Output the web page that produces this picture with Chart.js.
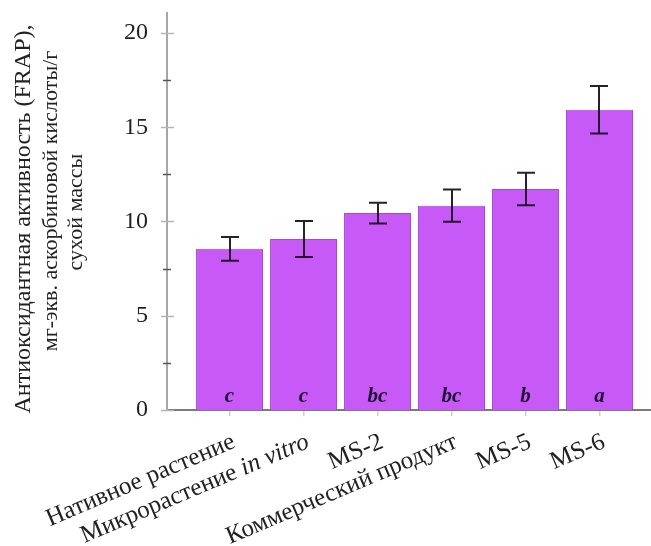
<!DOCTYPE html>
<html>
<head>
<meta charset="utf-8">
<script src="https://cdn.jsdelivr.net/npm/chart.js@4"></script>
<style>
  html, body { margin: 0; padding: 0; background: #fff; }
  canvas { display: block; }
</style>
</head>
<body>
<canvas id="chart" width="651" height="546"></canvas>
<script>
// Antioxidant activity (FRAP) by sample
const categories = ['Нативное растение', 'Микрорастение in vitro', 'MS-2', 'Коммерческий продукт', 'MS-5', 'MS-6'];
const italicTerms = ['in vitro'];
const means = [8.55, 9.07, 10.45, 10.84, 11.72, 15.93];
const errors = [0.63, 0.95, 0.55, 0.86, 0.86, 1.26];
const letters = ['c', 'c', 'bc', 'bc', 'b', 'a'];
const yMajorTicks = [0, 5, 10, 15, 20];
const yMinorTicks = [2.5, 7.5, 12.5, 17.5];
const titleLines = ['Антиоксидантная активность (FRAP),', 'мг-экв. аскорбиновой кислоты/г', 'сухой массы'];

const SERIF = '"Liberation Serif", "Times New Roman", serif';

const overlay = {
  id: 'overlay',
  afterDatasetsDraw(chart) {
    const ctx = chart.ctx;
    const xs = chart.scales.x, ys = chart.scales.y;
    ctx.save();
    // error bars
    ctx.strokeStyle = 'rgba(18, 8, 24, 0.9)';
    ctx.lineWidth = 2;
    means.forEach((m, i) => {
      const x = Math.round(xs.getPixelForValue(i));
      const top = ys.getPixelForValue(m + errors[i]);
      const bot = ys.getPixelForValue(m - errors[i]);
      ctx.beginPath();
      ctx.moveTo(x, top); ctx.lineTo(x, bot);
      ctx.moveTo(x - 9, top); ctx.lineTo(x + 9, top);
      ctx.moveTo(x - 9, bot); ctx.lineTo(x + 9, bot);
      ctx.stroke();
    });
    // significance letters
    ctx.fillStyle = '#1e1030';
    ctx.font = 'italic bold 21px ' + SERIF;
    ctx.textAlign = 'center';
    ctx.textBaseline = 'alphabetic';
    letters.forEach((t, i) => {
      ctx.fillText(t, xs.getPixelForValue(i), 402);
    });
    // y tick marks crossing the axis
    const ax = chart.chartArea.left;
    ctx.lineWidth = 1.5;
    ctx.strokeStyle = '#b4b4b4';
    yMajorTicks.forEach(v => {
      const y = Math.round(ys.getPixelForValue(v)) + 0.5;
      ctx.beginPath(); ctx.moveTo(ax - 6, y); ctx.lineTo(ax + 7, y); ctx.stroke();
    });
    ctx.strokeStyle = '#555';
    yMinorTicks.forEach(v => {
      const y = Math.round(ys.getPixelForValue(v)) + 0.5;
      ctx.beginPath(); ctx.moveTo(ax - 4, y); ctx.lineTo(ax + 4, y); ctx.stroke();
    });
    ctx.restore();
  },
  afterDraw(chart) {
    const ctx = chart.ctx;
    const xs = chart.scales.x;
    ctx.save();
    ctx.fillStyle = '#222';
    // rotated category labels
    const ang = -23 * Math.PI / 180;
    categories.forEach((label, i) => {
      const x = xs.getPixelForValue(i) + 7;
      ctx.save();
      ctx.translate(x, 447);
      ctx.rotate(ang);
      ctx.textAlign = 'right';
      ctx.textBaseline = 'alphabetic';
      const term = italicTerms.find(t => label.endsWith(' ' + t));
      if (term) {
        const head = label.slice(0, label.length - term.length);
        ctx.font = 'italic 25px ' + SERIF;
        const w = ctx.measureText(term).width;
        ctx.fillText(term, 0, 0);
        ctx.font = '25px ' + SERIF;
        ctx.fillText(head, -w, 0);
      } else {
        ctx.font = '25px ' + SERIF;
        ctx.fillText(label, 0, 0);
      }
      ctx.restore();
    });
    // y-axis title, three lines
    const lineX = [24, 51, 76];
    const lineY = [219, 201, 212];
    const lineFont = ['24px ', '22px ', '22px '];
    titleLines.forEach((t, k) => {
      ctx.save();
      ctx.translate(lineX[k], lineY[k]);
      ctx.rotate(-Math.PI / 2);
      ctx.textAlign = 'center';
      ctx.textBaseline = 'middle';
      ctx.font = lineFont[k] + SERIF;
      ctx.fillText(t, 0, 0);
      ctx.restore();
    });
    ctx.restore();
  }
};

new Chart(document.getElementById('chart'), {
  type: 'bar',
  data: {
    datasets: [{
      data: means.map((v, i) => ({ x: i, y: v })),
      backgroundColor: '#c75af6',
      borderColor: '#a946d8',
      borderWidth: 1,
      barPercentage: 0.905,
      categoryPercentage: 1
    }]
  },
  options: {
    responsive: false,
    animation: false,
    devicePixelRatio: 1,
    layout: { padding: { top: 0, right: 0, bottom: 0, left: 0 } },
    plugins: { legend: { display: false }, tooltip: { enabled: false } },
    scales: {
      x: {
        type: 'linear',
        offset: false,
        min: -0.845,
        max: 5.696,
        ticks: { display: false, stepSize: 1, includeBounds: false },
        grid: { offset: false, drawOnChartArea: false, drawTicks: true, tickLength: 6, color: '#cfcfcf', lineWidth: 1.5 },
        border: { display: true, color: '#7a7a7a', width: 2 },
        afterFit(scale) { scale.height = 136; }
      },
      y: {
        min: 0,
        max: 21.05,
        ticks: {
          stepSize: 5,
          includeBounds: false,
          padding: 0,
          color: '#222',
          font: { family: SERIF, size: 24, lineHeight: 1.1 }
        },
        grid: { display: false, drawTicks: true, tickLength: 19 },
        border: { display: true, color: '#a6a6a6', width: 2 },
        afterFit(scale) { scale.width = 167; }
      }
    }
  },
  plugins: [overlay]
});
</script>
</body>
</html>
